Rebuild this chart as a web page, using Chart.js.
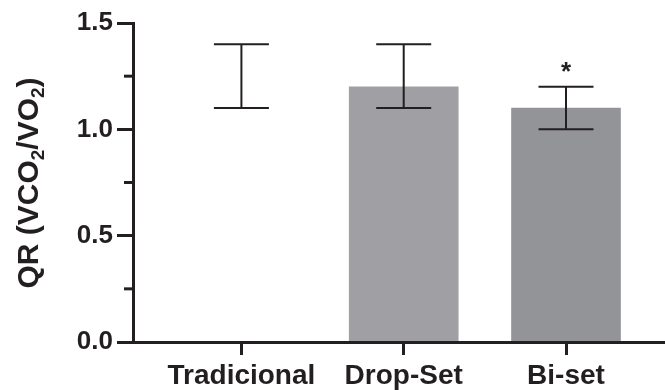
<!DOCTYPE html>
<html>
<head>
<meta charset="utf-8">
<script src="https://cdn.jsdelivr.net/npm/chart.js@4.4.1/dist/chart.umd.min.js"></script>
<style>
  html, body { margin: 0; padding: 0; background: #fff; }
  #wrap { width: 665px; height: 390px; }
</style>
</head>
<body>
<div id="wrap"><canvas id="qrChart" width="665" height="390"></canvas></div>
<script>
// data
const groups = ['Tradicional', 'Drop-Set', 'Bi-set'];
const positions = [1, 2, 3];
const means = [1.2, 1.2, 1.1];
const errLow = [1.1, 1.1, 1.0];
const errHigh = [1.4, 1.4, 1.2];
const signif = ['', '', '*'];
const yTicks = [0, 0.5, 1.0, 1.5];
const yMinorTicks = [0.25, 0.75, 1.25];

const ink = '#231f20';
const fontFamily = "'Liberation Sans', Arial, Helvetica, sans-serif";
const barColors = ['#ffffff', '#a0a0a4', '#939498'];

// error bars + significance marks
const errorBarPlugin = {
    id: 'errorBars',
    afterDatasetsDraw(chart) {
        const ctx = chart.ctx;
        const yScale = chart.scales.y;
        const meta = chart.getDatasetMeta(0);
        const capHalf = 27.5;
        ctx.save();
        ctx.strokeStyle = ink;
        ctx.lineWidth = 2;
        meta.data.forEach((bar, i) => {
            const x = bar.x;
            const yLo = yScale.getPixelForValue(errLow[i]);
            const yHi = yScale.getPixelForValue(errHigh[i]);
            ctx.beginPath();
            ctx.moveTo(x, yLo);
            ctx.lineTo(x, yHi);
            ctx.moveTo(x - capHalf, yLo);
            ctx.lineTo(x + capHalf, yLo);
            ctx.moveTo(x - capHalf, yHi);
            ctx.lineTo(x + capHalf, yHi);
            ctx.stroke();
            if (signif[i]) {
                ctx.fillStyle = ink;
                ctx.font = 'bold 26px ' + fontFamily;
                ctx.textAlign = 'center';
                ctx.textBaseline = 'alphabetic';
                ctx.fillText(signif[i], x, yHi - 7);
            }
        });
        ctx.restore();
    }
};

// shorter minor ticks on the y axis
const minorTickPlugin = {
    id: 'minorTicks',
    afterDraw(chart) {
        const ctx = chart.ctx;
        const yScale = chart.scales.y;
        const x0 = chart.chartArea.left;
        ctx.save();
        ctx.strokeStyle = ink;
        ctx.lineWidth = 3;
        yMinorTicks.forEach(v => {
            const y = yScale.getPixelForValue(v);
            ctx.beginPath();
            ctx.moveTo(x0 - 9, y);
            ctx.lineTo(x0, y);
            ctx.stroke();
        });
        ctx.restore();
    }
};

// y title with subscripts: QR (VCO2/VO2)
const yTitlePlugin = {
    id: 'yTitle',
    afterDraw(chart) {
        const ctx = chart.ctx;
        const parts = [
            ['QR (VCO', false], ['2', true], ['/VO', false], ['2', true], [')', false]
        ];
        const bigFont = 'bold 30px ' + fontFamily;
        const subFont = 'bold 19px ' + fontFamily;
        let total = 0;
        parts.forEach(p => {
            ctx.font = p[1] ? subFont : bigFont;
            total += ctx.measureText(p[0]).width;
        });
        ctx.save();
        ctx.translate(38, 183);
        ctx.rotate(-Math.PI / 2);
        ctx.fillStyle = ink;
        ctx.textBaseline = 'alphabetic';
        ctx.textAlign = 'left';
        let pos = -total / 2;
        parts.forEach(p => {
            ctx.font = p[1] ? subFont : bigFont;
            ctx.fillText(p[0], pos, p[1] ? 6 : 0);
            pos += ctx.measureText(p[0]).width;
        });
        ctx.restore();
    }
};

const chart = new Chart(document.getElementById('qrChart').getContext('2d'), {
    type: 'bar',
    data: {
        datasets: [{
            data: positions.map((p, i) => ({ x: p, y: means[i] })),
            backgroundColor: barColors,
            borderWidth: 0,
            barThickness: 109
        }]
    },
    options: {
        responsive: false,
        animation: false,
        layout: { padding: { top: 23, left: 0, right: 0, bottom: 0 } },
        plugins: {
            legend: { display: false },
            tooltip: { enabled: false }
        },
        scales: {
            x: {
                type: 'linear',
                min: 0.332,
                max: 3.61,
                offset: false,
                afterBuildTicks: scale => {
                    scale.ticks = positions.map(v => ({ value: v }));
                },
                afterFit: scale => { scale.height = 48; },
                ticks: {
                    autoSkip: false,
                    maxRotation: 0,
                    padding: 4,
                    color: ink,
                    font: { family: fontFamily, size: 28, weight: 'bold' },
                    callback: value => groups[positions.indexOf(value)] || ''
                },
                grid: {
                    offset: false,
                    drawOnChartArea: false,
                    tickLength: 13,
                    tickWidth: 3,
                    tickColor: ink
                },
                border: { display: true, color: ink, width: 3, z: 1 }
            },
            y: {
                min: 0,
                max: 1.5,
                afterBuildTicks: scale => {
                    scale.ticks = yTicks.map(v => ({ value: v }));
                },
                afterFit: scale => { scale.width = 133; },
                ticks: {
                    padding: 4,
                    color: ink,
                    font: { family: fontFamily, size: 26, weight: 'bold' },
                    callback: value => Number(value).toFixed(1)
                },
                grid: {
                    drawOnChartArea: false,
                    tickLength: 16,
                    tickWidth: 3,
                    tickColor: ink
                },
                border: { display: true, color: ink, width: 3, z: 1 }
            }
        }
    },
    plugins: [errorBarPlugin, minorTickPlugin, yTitlePlugin]
});
</script>
</body>
</html>
